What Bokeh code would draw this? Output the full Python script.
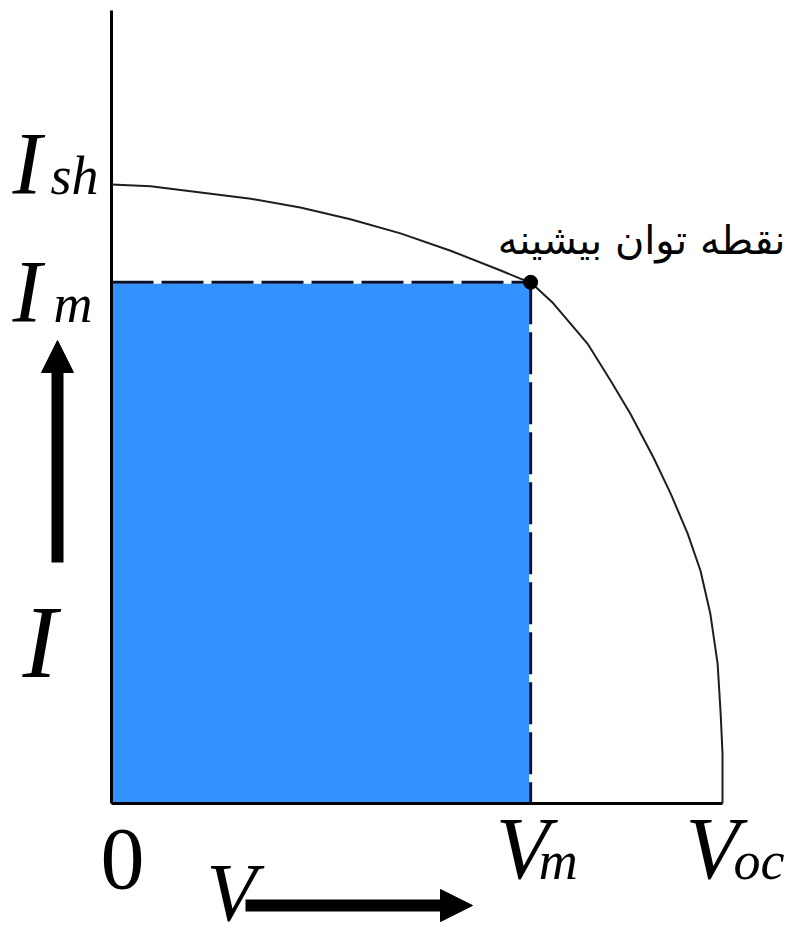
from bokeh.plotting import figure
from bokeh.models import Range1d, Arrow, NormalHead
from bokeh.core.properties import value
from bokeh.embed import file_html
from bokeh.resources import INLINE

# Normalised I-V characteristic of a solar cell (V / Voc, I / Ish)
V_OC = 1.0
I_SH = 1.0
V_M = 0.686
I_M = 0.842

curve_v = [0.0, 0.064, 0.146, 0.228, 0.309, 0.391, 0.473, 0.555, 0.637, 0.669,
           V_M, 0.723, 0.779, 0.817, 0.849, 0.887, 0.915, 0.943, 0.964, 0.980,
           0.992, 0.997, 1.0, 1.0]
curve_i = [1.0, 0.997, 0.987, 0.977, 0.963, 0.944, 0.921, 0.893, 0.861, 0.848,
           I_M, 0.808, 0.743, 0.683, 0.630, 0.559, 0.501, 0.436, 0.376, 0.307,
           0.226, 0.145, 0.081, 0.0]

W, H = 789, 941
OX, OY = 111, 803          # pixel position of the origin
SX, SY = 611.0, 619.0      # pixels per unit on each axis
BASE_SHIFT = 0.36          # baseline correction, in em


def px(x):
    return (x - OX) / SX


def py(y):
    return (OY - y) / SY


p = figure(width=W, height=H, output_backend="svg", toolbar_location=None,
           x_range=Range1d(px(0), px(W)), y_range=Range1d(py(H), py(0)),
           x_axis_location=None, y_axis_location=None,
           min_border=0, min_border_left=0, min_border_right=0,
           min_border_top=0, min_border_bottom=0)
p.grid.visible = False
p.outline_line_color = None
p.background_fill_color = "white"
p.border_fill_color = "white"

# maximum power rectangle
p.quad(left=[0], right=[V_M], bottom=[0], top=[I_M],
       fill_color="#3392ff", line_color=None)
for xs, ys in (([0, V_M], [I_M, I_M]), ([V_M, V_M], [I_M, 0])):
    p.line(xs, ys, line_color="white", line_width=3)
    p.line(xs, ys, line_color="#06102e", line_width=3, line_dash="42 8")

# axes
p.line([0, 0], [0, py(10)], line_color="black", line_width=3)
p.line([0, V_OC], [0, 0], line_color="black", line_width=3)

# I-V curve and maximum power point
p.line(curve_v, curve_i, line_color="#1e1e1e", line_width=2, line_join="round")
p.scatter(x=[V_M], y=[I_M], size=14, color="black")

serif = value("Liberation Serif")


def label(x, y, txt, size, style="italic", align="left", font=serif):
    p.text(x=[x], y=[y], text=[txt], text_font=font, text_font_style=style,
           text_font_size=f"{size}px", text_align=align,
           text_baseline="alphabetic", text_color="black",
           y_offset=-BASE_SHIFT * size)


# current labels
label(px(12), I_SH - 11 / SY, "I", 88)
label(px(50), I_SH - 11 / SY, "sh", 54)
label(px(12), I_M - 41 / SY, "I", 88)
label(px(53), I_M - 41 / SY, "m", 54)
label(px(22), py(678), "I", 104)

# voltage labels
label(px(100), py(890), "0", 88, style="normal")
label(V_M + px(495) - px(530), py(880), "V", 88)
label(V_M + px(538) - px(530), py(880), "m", 54)
label(V_OC + px(685) - px(722), py(880), "V", 88)
label(V_OC + px(733) - px(722), py(880), "oc", 54)
label(px(206), py(922), "V", 82)

# maximum power point caption
label(px(785), py(254), "نقطه توان بیشینه", 40, style="normal",
      align="right", font=value("DejaVu Sans"))

# direction arrows
p.add_layout(Arrow(x_start=px(57), y_start=py(562), x_end=px(57), y_end=py(340),
                   line_width=12, line_color="black",
                   end=NormalHead(size=32, fill_color="black", line_color="black")))
p.add_layout(Arrow(x_start=px(245), y_start=py(905), x_end=px(472), y_end=py(905),
                   line_width=12, line_color="black",
                   end=NormalHead(size=32, fill_color="black", line_color="black")))

open("out.html", "w").write(file_html(p, INLINE))
